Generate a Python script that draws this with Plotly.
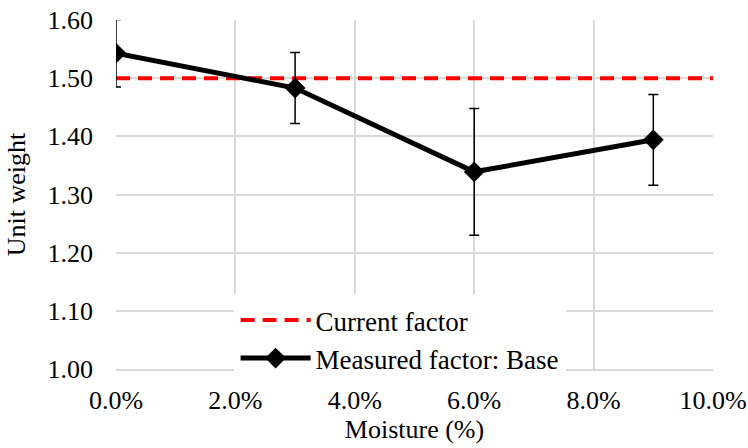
import plotly.graph_objects as go

moisture = [0.0, 0.03, 0.06, 0.09]
unit_weight = [1.543, 1.483, 1.339, 1.394]
err = [0.058, 0.061, 0.109, 0.078]
current_x = [0.0, 0.10]
current_y = [1.50, 1.50]

font = "Liberation Serif, Times New Roman, serif"
fs = 26

fig = go.Figure()
fig.add_trace(go.Scatter(
    x=current_x, y=current_y, mode="lines", name="Current factor",
    line=dict(color="#ff0000", width=4, dash="14px,8px"),
))
fig.add_trace(go.Scatter(
    x=moisture, y=unit_weight, mode="lines+markers", name="Measured factor: Base",
    line=dict(color="black", width=5),
    marker=dict(symbol="diamond", size=16, color="black"),
    error_y=dict(type="data", array=err, visible=True, color="black", thickness=1.5, width=5),
))

fig.update_layout(
    width=748, height=448,
    margin=dict(l=116, r=35, t=20, b=79),
    paper_bgcolor="white", plot_bgcolor="white",
    font=dict(family=font, size=fs, color="black"),
    showlegend=True,
    legend=dict(x=0.197, y=0.215, xanchor="left", yanchor="top",
                bgcolor="white", bordercolor="white", borderwidth=2,
                font=dict(size=27, family=font),
                itemwidth=70, tracegroupgap=0),
)
fig.update_xaxes(
    range=[0, 0.10], tickvals=[0, 0.02, 0.04, 0.06, 0.08, 0.10],
    tickformat=".1%", showgrid=True, gridcolor="#d9d9d9", gridwidth=1.5,
    zeroline=False, showline=True, linecolor="#d9d9d9", linewidth=1.5,
    title=dict(text="Moisture (%)", font=dict(size=fs), standoff=2),
    ticks="", tickfont=dict(size=fs), ticklabelstandoff=7, automargin=False,
)
fig.update_yaxes(
    range=[1.0, 1.6], dtick=0.1, tickformat=".2f",
    showgrid=True, gridcolor="#d9d9d9", gridwidth=1.5,
    zeroline=False, showline=False,
    title=dict(text="Unit weight", font=dict(size=fs), standoff=14),
    ticks="", tickfont=dict(size=fs), ticklabelstandoff=22, automargin=False,
)

fig.write_html("out.html")
